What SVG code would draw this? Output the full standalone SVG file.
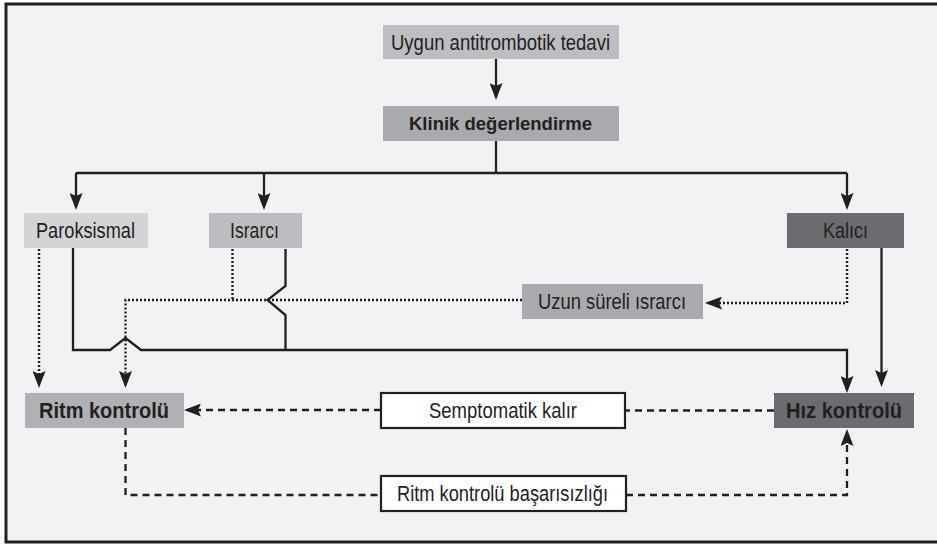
<svg xmlns="http://www.w3.org/2000/svg" width="937" height="544" viewBox="0 0 937 544">
  <style>
    .t { font-family: "Liberation Sans", Arial, sans-serif; font-size: 22px; fill: #231f20; text-anchor: middle; }
    .b { font-weight: bold; }
    .solid { fill: none; stroke: #231f20; stroke-width: 2.3; }
    .dot { fill: none; stroke: #231f20; stroke-width: 2.4; stroke-dasharray: 2 2; }
    .dash { fill: none; stroke: #231f20; stroke-width: 2.3; stroke-dasharray: 7 5; }
    .box { stroke: none; }
    .wbox { fill: #ffffff; stroke: #231f20; stroke-width: 2.2; }
  </style>
  <defs>
    <marker id="ah" viewBox="0 0 17 13" refX="14" refY="6.5" markerWidth="17" markerHeight="13" markerUnits="userSpaceOnUse" orient="auto">
      <path d="M0,0 L17,6.5 L0,13 L3,6.5 z" fill="#231f20"/>
    </marker>
  </defs>
  <rect x="0" y="0" width="937" height="544" fill="#ffffff"/>
  <rect x="6" y="4" width="940" height="538" fill="#f1f2f4" stroke="#231f20" stroke-width="3"/>

  <g id="connectors">
    <path class="solid" d="M496,59 V97" marker-end="url(#ah)"/>
    <path class="solid" d="M496,141 V173"/>
    <path class="solid" d="M76,173 H847"/>
    <path class="solid" d="M76,173 V207" marker-end="url(#ah)"/>
    <path class="solid" d="M264,173 V207" marker-end="url(#ah)"/>
    <path class="solid" d="M847,173 V207" marker-end="url(#ah)"/>
    <path class="solid" d="M73,248 V350 H110 L125.5,338 L141,350 H847 V390" marker-end="url(#ah)"/>
    <path class="solid" d="M285.5,249 V286 L267.5,300 L285.5,315 V350"/>
    <path class="solid" d="M881.5,248 V384" marker-end="url(#ah)"/>
    <path class="dot" d="M39,249 V385" marker-end="url(#ah)"/>
    <path class="dot" d="M232.5,249 V300"/>
    <path class="dot" d="M522,300 H125.5 V385" marker-end="url(#ah)"/>
    <path class="dot" d="M847,249 V303 H708" marker-end="url(#ah)"/>
    <path class="dash" d="M774,410.5 H625"/>
    <path class="dash" d="M381,410 H187" marker-end="url(#ah)"/>
    <path class="dash" d="M125.5,428 V495 H381"/>
    <path class="dash" d="M626,495 H847 V432" marker-end="url(#ah)"/>
  </g>

  <g id="uygun">
    <rect class="box" x="383" y="25" width="236" height="34" fill="#bdbec1"/>
    <text class="t" x="500.5" y="49.5" textLength="219" lengthAdjust="spacingAndGlyphs">Uygun antitrombotik tedavi</text>
  </g>
  <g id="klinik">
    <rect class="box" x="383" y="106" width="236" height="35" fill="#a9aaad"/>
    <text class="t b" x="500.5" y="130" style="font-size:19px" textLength="183" lengthAdjust="spacingAndGlyphs">Klinik değerlendirme</text>
  </g>
  <g id="paroksismal">
    <rect class="box" x="24" y="213" width="124" height="35" fill="#d3d4d6"/>
    <text class="t" x="85.5" y="237.5" textLength="99" lengthAdjust="spacingAndGlyphs">Paroksismal</text>
  </g>
  <g id="israrci">
    <rect class="box" x="209" y="213" width="93" height="35" fill="#bcbdc0"/>
    <text class="t" x="254.5" y="237.5" textLength="49" lengthAdjust="spacingAndGlyphs">Israrcı</text>
  </g>
  <g id="kalici">
    <rect class="box" x="787" y="213" width="117" height="35" fill="#6b6c6f"/>
    <text class="t" x="845.5" y="237.5" textLength="45" lengthAdjust="spacingAndGlyphs">Kalıcı</text>
  </g>
  <g id="uzun">
    <rect class="box" x="522" y="284" width="181" height="35" fill="#a9aaad"/>
    <text class="t" x="612" y="308.5" textLength="148" lengthAdjust="spacingAndGlyphs">Uzun süreli ısrarcı</text>
  </g>
  <g id="ritm">
    <rect class="box" x="25" y="393" width="159" height="35" fill="#b0b1b4"/>
    <text class="t b" x="104" y="418" textLength="130" lengthAdjust="spacingAndGlyphs">Ritm kontrolü</text>
  </g>
  <g id="semptomatik">
    <rect class="wbox" x="381" y="393" width="244" height="35"/>
    <text class="t" x="503" y="418" textLength="148" lengthAdjust="spacingAndGlyphs">Semptomatik kalır</text>
  </g>
  <g id="hiz">
    <rect class="box" x="774" y="393" width="140" height="35" fill="#6b6c6f"/>
    <text class="t b" x="844" y="418" textLength="116" lengthAdjust="spacingAndGlyphs">Hız kontrolü</text>
  </g>
  <g id="basarisizlik">
    <rect class="wbox" x="381" y="476" width="245" height="35"/>
    <text class="t" x="502.5" y="501" textLength="211" lengthAdjust="spacingAndGlyphs">Ritm kontrolü başarısızlığı</text>
  </g>
</svg>
